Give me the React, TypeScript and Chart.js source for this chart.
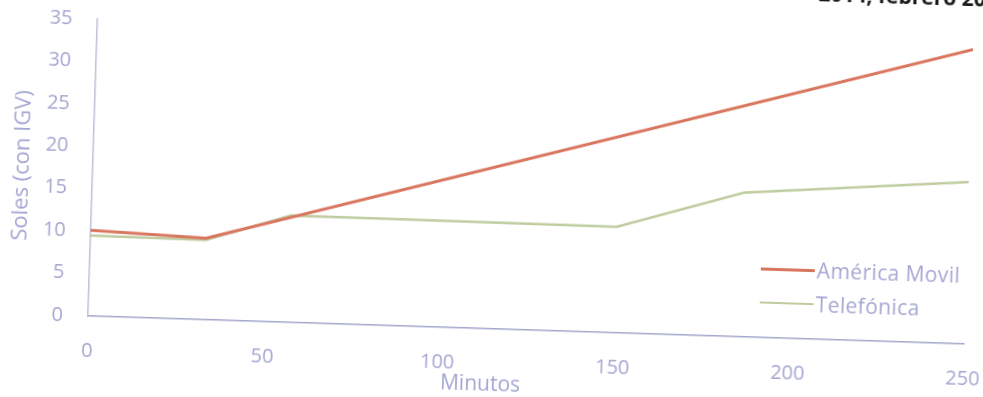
import React, { useEffect, useRef } from 'react';
import { Chart, registerables } from 'chart.js';

Chart.register(...registerables);

// ---- data ----
const seriesNames = ['América Movil', 'Telefónica'];
const americaMinutes = [0, 33, 250];
const americaSoles = [10.1, 9.6, 34.7];
const telefonicaMinutes = [0, 33, 57, 150, 186, 250];
const telefonicaSoles = [9.5, 9.4, 12.6, 12.5, 17.0, 19.1];
const xTickValues = [0, 50, 100, 150, 200, 250];
const yTickValues = [0, 5, 10, 15, 20, 25, 30, 35];
const xTitle = 'Minutos';
const yTitle = 'Soles (con IGV)';
const headerText = '2014, febrero 2014';

// ---- styles ----
const FONT = "'Open Sans', 'DejaVu Sans', sans-serif";
const TEXT = '#a4a6d2';
const AXIS = '#a3a6cc';
const RED = '#d9765f';
const GREEN = '#bfcca0';
const seriesColors = [RED, GREEN];
const seriesWidths = [3, 2.5];

const headerPlugin = {
  id: 'scanHeader',
  afterDraw(chart: any) {
    const ctx = chart.ctx;
    ctx.save();
    ctx.font = `bold 21px ${FONT}`;
    ctx.fillStyle = '#1a1a1a';
    ctx.textBaseline = 'alphabetic';
    ctx.textAlign = 'left';
    ctx.fillText(headerText, 808, 18);
    ctx.restore();
  },
};

export default function App() {
  const ref = useRef<HTMLCanvasElement | null>(null);

  useEffect(() => {
    if (!ref.current) return;
    const toPoints = (xs: number[], ys: number[]) => xs.map((x, i) => ({ x, y: ys[i] }));
    const chart = new Chart(ref.current, {
      type: 'line',
      data: {
        datasets: [
          {
            label: seriesNames[0],
            data: toPoints(americaMinutes, americaSoles),
            borderColor: seriesColors[0],
            backgroundColor: seriesColors[0],
            borderWidth: seriesWidths[0],
            pointRadius: 0,
            tension: 0,
          },
          {
            label: seriesNames[1],
            data: toPoints(telefonicaMinutes, telefonicaSoles),
            borderColor: seriesColors[1],
            backgroundColor: seriesColors[1],
            borderWidth: seriesWidths[1],
            pointRadius: 0,
            tension: 0,
          },
        ],
      },
      options: {
        animation: false,
        responsive: false,
        maintainAspectRatio: false,
        devicePixelRatio: 1,
        layout: { padding: { top: 59, right: 19, bottom: 15, left: 0 } },
        plugins: {
          legend: { display: false },
          tooltip: { enabled: false },
          title: {
            display: true,
            text: xTitle,
            position: 'bottom',
            color: TEXT,
            font: { family: FONT, size: 21, weight: 'normal', lineHeight: '20px' },
            padding: 0,
          },
        },
        scales: {
          x: {
            type: 'linear',
            min: 0,
            max: 250,
            afterBuildTicks: (s: any) => {
              s.ticks = xTickValues.map((v) => ({ value: v }));
            },
            afterFit: (s: any) => {
              s.height = 46;
              s.paddingLeft = 0;
              s.paddingRight = 0;
            },
            grid: { display: false },
            border: { display: true, color: AXIS, width: 1.5 },
            ticks: {
              color: TEXT,
              padding: 15,
              font: { family: FONT, size: 20 },
              maxRotation: 0,
            },
          },
          y: {
            type: 'linear',
            min: 0,
            max: 35,
            afterBuildTicks: (s: any) => {
              s.ticks = yTickValues.map((v) => ({ value: v }));
            },
            afterFit: (s: any) => {
              s.width = 88;
              s.paddingTop = 0;
              s.paddingBottom = 0;
            },
            grid: { display: false },
            border: { display: true, color: '#bfc0d8', width: 1.5 },
            ticks: {
              color: TEXT,
              padding: 17,
              font: { family: FONT, size: 20 },
            },
            title: {
              display: true,
              text: yTitle,
              color: TEXT,
              font: { family: FONT, size: 22, lineHeight: '20px' },
              padding: { top: 8, bottom: 0 },
            },
          },
        },
      },
      plugins: [headerPlugin],
    });
    return () => chart.destroy();
  }, []);

  return (
    <div
      style={{
        position: 'absolute',
        left: 0,
        top: 0,
        width: 983,
        height: 397,
        overflow: 'hidden',
        background: '#ffffff',
      }}
    >
      <div
        style={{
          position: 'absolute',
          left: 0,
          top: -40,
          width: 983,
          height: 437,
          transform: 'rotate(1.83deg)',
          transformOrigin: '88px 356px',
        }}
      >
        <canvas ref={ref} width={983} height={437} style={{ width: 983, height: 437, display: 'block' }} />
        <div
          style={{
            position: 'absolute',
            left: 759,
            top: 275,
            display: 'flex',
            flexDirection: 'column',
            gap: 10,
            fontFamily: FONT,
            fontSize: 21,
            color: TEXT,
            letterSpacing: '0.4px',
          }}
        >
          {seriesNames.map((name, i) => (
            <div key={name} style={{ display: 'flex', alignItems: 'center', height: 24, lineHeight: '24px' }}>
              <span
                style={{
                  display: 'inline-block',
                  width: 54,
                  height: seriesWidths[i],
                  background: seriesColors[i],
                  marginRight: 2,
                }}
              />
              <span>{name}</span>
            </div>
          ))}
        </div>
      </div>
    </div>
  );
}
